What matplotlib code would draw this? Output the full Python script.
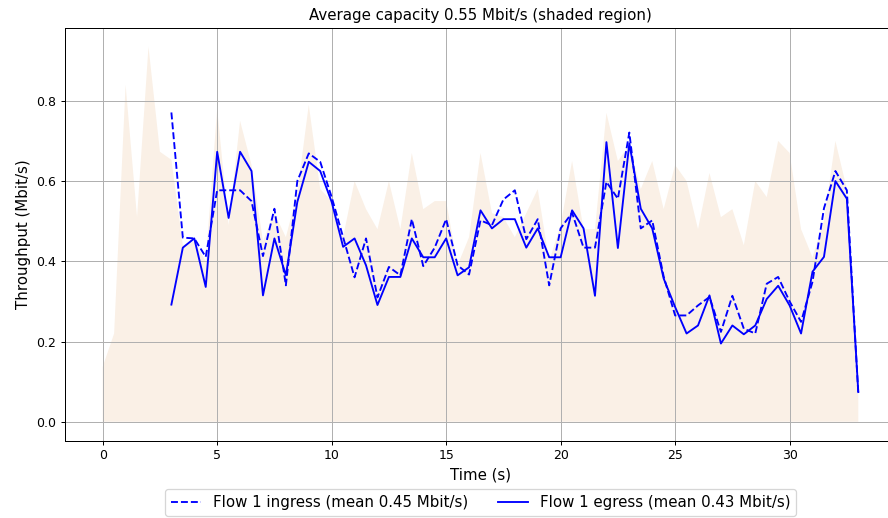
"""Tunnel throughput graph: link capacity (shaded) vs flow ingress/egress."""
import matplotlib
matplotlib.use("Agg")
import matplotlib.pyplot as plt
import numpy as np

BIN = 0.5  # seconds per sample
DPI = 90

CAPACITY = [
    0.137, 0.22, 0.84, 0.51, 0.935, 0.673, 0.653, 0.44, 0.45, 0.40,
    0.78, 0.49, 0.75, 0.64, 0.45, 0.52, 0.46, 0.57, 0.79, 0.58,
    0.55, 0.46, 0.60, 0.53, 0.48, 0.60, 0.48, 0.67, 0.53, 0.55,
    0.55, 0.39, 0.46, 0.67, 0.52, 0.51, 0.46, 0.52, 0.58, 0.40,
    0.49, 0.65, 0.48, 0.48, 0.77, 0.65, 0.69, 0.58, 0.65, 0.53,
    0.64, 0.60, 0.48, 0.62, 0.51, 0.53, 0.44, 0.60, 0.56, 0.70,
    0.67, 0.48, 0.41, 0.50, 0.70, 0.58, 0.08,
]
CAPACITY_START = 0.0

INGRESS = [
    0.771, 0.459, 0.457, 0.411, 0.577, 0.577, 0.577, 0.55, 0.413, 0.531,
    0.34, 0.60, 0.669, 0.648, 0.56, 0.46, 0.36, 0.457, 0.31, 0.386,
    0.365, 0.505, 0.388, 0.434, 0.505, 0.39, 0.367, 0.502, 0.49, 0.554,
    0.577, 0.455, 0.505, 0.34, 0.482, 0.521, 0.434, 0.434, 0.598, 0.556,
    0.721, 0.482, 0.502, 0.362, 0.265, 0.265, 0.29, 0.311, 0.224, 0.314,
    0.232, 0.22, 0.344, 0.361, 0.30, 0.249, 0.349, 0.532, 0.625, 0.577,
    0.07,
]
EGRESS = [
    0.292, 0.434, 0.457, 0.336, 0.673, 0.508, 0.673, 0.625, 0.315, 0.457,
    0.365, 0.548, 0.648, 0.625, 0.548, 0.436, 0.457, 0.39, 0.291, 0.361,
    0.361, 0.457, 0.41, 0.41, 0.457, 0.365, 0.385, 0.527, 0.482, 0.505,
    0.505, 0.434, 0.482, 0.41, 0.41, 0.527, 0.482, 0.314, 0.697, 0.433,
    0.694, 0.531, 0.482, 0.357, 0.286, 0.22, 0.24, 0.315, 0.195, 0.24,
    0.218, 0.24, 0.306, 0.339, 0.29, 0.22, 0.374, 0.411, 0.60, 0.556,
    0.074,
]
FLOW_START = 3.0

AVG_CAPACITY = 0.55
INGRESS_MEAN = 0.45
EGRESS_MEAN = 0.43


def main() -> None:
    cap_t = CAPACITY_START + BIN * np.arange(len(CAPACITY))
    flow_t = FLOW_START + BIN * np.arange(len(INGRESS))

    fig = plt.figure(figsize=(888 / DPI, 518 / DPI), dpi=DPI)
    ax = fig.add_axes([0.0731, 0.1496, 0.936, 0.7965])

    ax.fill_between(cap_t, 0, CAPACITY, facecolor="linen")
    ax.plot(flow_t, INGRESS, color="b", linestyle="dashed",
            label=f"Flow 1 ingress (mean {INGRESS_MEAN:.2f} Mbit/s)")
    ax.plot(flow_t, EGRESS, color="b",
            label=f"Flow 1 egress (mean {EGRESS_MEAN:.2f} Mbit/s)")

    ax.grid()
    ax.set_xticks([0, 5, 10, 15, 20, 25, 30])
    ax.set_yticks([0.0, 0.2, 0.4, 0.6, 0.8])
    ax.set_title(f"Average capacity {AVG_CAPACITY:.2f} Mbit/s (shaded region)")
    ax.set_xlabel("Time (s)", fontsize=12)
    ax.set_ylabel("Throughput (Mbit/s)", fontsize=12)
    ax.legend(scatterpoints=1, bbox_to_anchor=(0.5, -0.1), loc="upper center",
              ncol=2, fontsize=12)

    fig.savefig("out.png", dpi=DPI)
    plt.close(fig)


if __name__ == "__main__":
    main()
